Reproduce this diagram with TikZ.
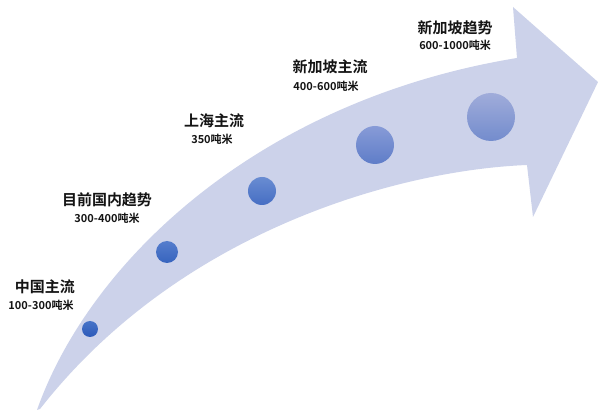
\documentclass[tikz,border=0pt]{standalone}
\usepackage{fontspec}
\newfontfamily\cjkb{Noto Sans CJK SC Bold}
\definecolor{band}{HTML}{CCD2EA}
\definecolor{txt}{HTML}{141414}
\tikzset{
  ttl/.style={font=\cjkb\fontsize{15}{16}\selectfont, text=txt, inner sep=0pt},
  sub/.style={font=\cjkb\fontsize{11}{12}\selectfont, text=txt, inner sep=0pt},
  dot/.style={circle, inner sep=0pt, draw=none}
}
\begin{document}
\begin{tikzpicture}[x=1pt,y=-1pt]
\useasboundingbox (0,0) rectangle (598,414);
\fill[white] (0,0) rectangle (598,414);
% arrow band
\fill[band] (37,410) .. controls (90,260) and (260,100) .. (517,58)
  -- (513,7) -- (598,82) -- (533,217) -- (527,165)
  .. controls (400,170) and (180,230) .. (40,409) -- cycle;
% dots
\node[dot, minimum size=16pt] (d1) at (90,329) {};
\shade[top color={rgb,255:red,70;green,115;blue,200}, bottom color={rgb,255:red,45;green,90;blue,185}] (d1.center) circle (8);
\node[dot, minimum size=22pt] (d2) at (167,252) {};
\shade[top color={rgb,255:red,85;green,125;blue,205}, bottom color={rgb,255:red,55;green,100;blue,190}] (d2.center) circle (11);
\node[dot, minimum size=28pt] (d3) at (262,191) {};
\shade[top color={rgb,255:red,105;green,140;blue,210}, bottom color={rgb,255:red,70;green,110;blue,195}] (d3.center) circle (14);
\node[dot, minimum size=38pt] (d4) at (375,145) {};
\shade[top color={rgb,255:red,135;green,155;blue,215}, bottom color={rgb,255:red,95;green,125;blue,200}] (d4.center) circle (19);
\node[dot, minimum size=48pt] (d5) at (491,117) {};
\shade[top color={rgb,255:red,160;green,172;blue,218}, bottom color={rgb,255:red,115;green,140;blue,205}] (d5.center) circle (24);
% labels
\node[ttl] (t1) at (45,287) {中国主流};
\node[sub] (s1) at (41,305) {100-300吨米};
\node[ttl] (t2) at (107,200) {目前国内趋势};
\node[sub] (s2) at (107,218) {300-400吨米};
\node[ttl] (t3) at (214,121) {上海主流};
\node[sub] (s3) at (212,139) {350吨米};
\node[ttl] (t4) at (330,67) {新加坡主流};
\node[sub] (s4) at (326,86) {400-600吨米};
\node[ttl] (t5) at (455,28) {新加坡趋势};
\node[sub] (s5) at (455,45) {600-1000吨米};
\end{tikzpicture}
\end{document}
